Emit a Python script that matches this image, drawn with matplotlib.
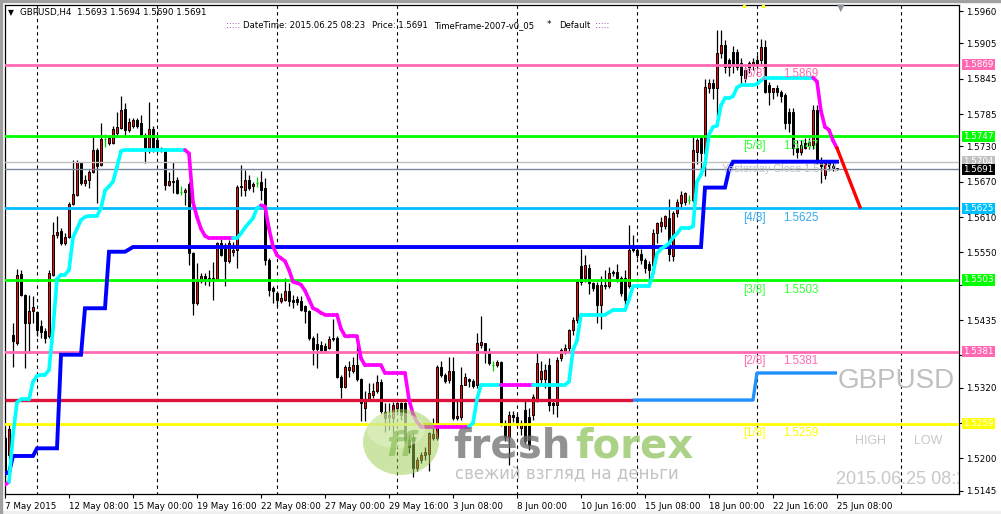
import matplotlib
matplotlib.use('Agg')
import matplotlib.pyplot as plt
import numpy as np
from matplotlib.collections import LineCollection
from matplotlib.patches import Ellipse, Rectangle

# ---------------- data (GBPUSD H4) ----------------
opens = [
 1.5234,1.5206,1.5410,1.5396,1.5514,1.5478,1.5430,1.5450,1.5448,1.5424,
 1.5416,1.5407,1.5512,1.5580,1.5587,1.5566,1.5576,1.5632,1.5648,1.5703,
 1.5668,1.5673,1.5687,1.5723,1.5699,1.5742,1.5735,1.5735,1.5752,1.5761,
 1.5793,1.5758,1.5764,1.5774,1.5769,1.5750,1.5724,1.5760,1.5741,1.5727,
 1.5724,1.5665,1.5672,1.5673,1.5653,1.5653,1.5666,1.5549,1.5464,1.5502,
 1.5509,1.5504,1.5506,1.5503,1.5566,1.5560,1.5535,1.5551,1.5554,1.5661,
 1.5656,1.5673,1.5662,1.5667,1.5670,1.5659,1.5537,1.5489,1.5481,1.5467,
 1.5469,1.5484,1.5469,1.5470,1.5467,1.5458,1.5450,1.5404,1.5395,1.5393,
 1.5390,1.5387,1.5403,1.5404,1.5339,1.5322,1.5350,1.5348,1.5359,1.5334,
 1.5285,1.5299,1.5308,1.5314,1.5330,1.5279,1.5270,1.5268,1.5285,1.5294,
 1.5294,1.5231,1.5237,1.5183,1.5198,1.5206,1.5208,1.5234,1.5234,1.5356,
 1.5342,1.5333,1.5348,1.5268,1.5270,1.5325,1.5335,1.5331,1.5325,1.5393,
 1.5396,1.5379,1.5359,1.5359,1.5364,1.5260,1.5237,1.5274,1.5271,1.5252,
 1.5282,1.5271,1.5274,1.5299,1.5334,1.5334,1.5359,1.5294,1.5291,1.5370,
 1.5382,1.5387,1.5418,1.5435,1.5526,1.5506,1.5523,1.5498,1.5495,1.5461,
 1.5495,1.5492,1.5515,1.5517,1.5506,1.5506,1.5492,1.5560,1.5554,1.5548,
 1.5537,1.5530,1.5529,1.5582,1.5594,1.5594,1.5608,1.5543,1.5616,1.5633,
 1.5636,1.5639,1.5639,1.5721,1.5744,1.5718,1.5829,1.5837,1.5829,1.5888,
 1.5902,1.5877,1.5891,1.5891,1.5871,1.5860,1.5865,1.5868,1.5877,1.5877,
 1.5899,1.5834,1.5823,1.5829,1.5823,1.5817,1.5789,1.5789,1.5727,1.5721,
 1.5735,1.5730,1.5732,1.5792,1.5707,1.5682,1.5701,1.5696,1.5693]
highs = [
 1.5240,1.5260,1.5430,1.5521,1.5520,1.5480,1.5478,1.5475,1.5450,1.5435,
 1.5421,1.5520,1.5602,1.5611,1.5591,1.5583,1.5636,1.5707,1.5707,1.5704,
 1.5682,1.5690,1.5747,1.5727,1.5769,1.5751,1.5748,1.5764,1.5789,1.5815,
 1.5803,1.5778,1.5778,1.5778,1.5784,1.5752,1.5806,1.5764,1.5747,1.5729,
 1.5727,1.5687,1.5704,1.5678,1.5662,1.5659,1.5670,1.5551,1.5532,1.5515,
 1.5515,1.5520,1.5534,1.5568,1.5577,1.5566,1.5571,1.5568,1.5665,1.5699,
 1.5690,1.5682,1.5670,1.5678,1.5689,1.5676,1.5540,1.5492,1.5484,1.5481,
 1.5506,1.5498,1.5478,1.5475,1.5475,1.5461,1.5452,1.5407,1.5413,1.5399,
 1.5396,1.5407,1.5437,1.5407,1.5342,1.5359,1.5365,1.5373,1.5390,1.5336,
 1.5314,1.5328,1.5328,1.5342,1.5334,1.5294,1.5294,1.5295,1.5296,1.5296,
 1.5296,1.5240,1.5243,1.5203,1.5211,1.5220,1.5245,1.5268,1.5359,1.5365,
 1.5345,1.5373,1.5373,1.5299,1.5356,1.5345,1.5336,1.5334,1.5413,1.5441,
 1.5396,1.5387,1.5366,1.5367,1.5366,1.5265,1.5280,1.5280,1.5275,1.5265,
 1.5300,1.5285,1.5310,1.5380,1.5365,1.5360,1.5370,1.5300,1.5372,1.5388,
 1.5395,1.5420,1.5440,1.5505,1.5555,1.5545,1.5530,1.5500,1.5500,1.5510,
 1.5520,1.5525,1.5520,1.5530,1.5510,1.5520,1.5597,1.5580,1.5560,1.5555,
 1.5540,1.5535,1.5590,1.5602,1.5610,1.5614,1.5640,1.5620,1.5640,1.5655,
 1.5652,1.5648,1.5750,1.5745,1.5750,1.5845,1.5845,1.5845,1.5928,1.5928,
 1.5910,1.5880,1.5900,1.5895,1.5880,1.5865,1.5875,1.5880,1.5885,1.5912,
 1.5910,1.5840,1.5830,1.5835,1.5825,1.5820,1.5795,1.5795,1.5740,1.5740,
 1.5745,1.5745,1.5800,1.5800,1.5712,1.5705,1.5706,1.5702,1.5694]
lows = [
 1.5166,1.5198,1.5356,1.5393,1.5475,1.5353,1.5379,1.5430,1.5407,1.5404,
 1.5396,1.5404,1.5509,1.5574,1.5563,1.5563,1.5574,1.5631,1.5645,1.5665,
 1.5662,1.5659,1.5685,1.5634,1.5696,1.5729,1.5732,1.5734,1.5750,1.5759,
 1.5750,1.5755,1.5761,1.5762,1.5747,1.5701,1.5718,1.5721,1.5721,1.5721,
 1.5656,1.5662,1.5651,1.5649,1.5648,1.5631,1.5529,1.5444,1.5461,1.5498,
 1.5495,1.5492,1.5469,1.5502,1.5543,1.5492,1.5532,1.5543,1.5523,1.5645,
 1.5645,1.5656,1.5653,1.5661,1.5639,1.5529,1.5475,1.5464,1.5458,1.5464,
 1.5467,1.5458,1.5455,1.5461,1.5450,1.5430,1.5401,1.5359,1.5353,1.5379,
 1.5379,1.5385,1.5399,1.5336,1.5302,1.5319,1.5339,1.5345,1.5331,1.5263,
 1.5263,1.5297,1.5302,1.5311,1.5277,1.5245,1.5248,1.5243,1.5277,1.5265,
 1.5226,1.5209,1.5169,1.5178,1.5192,1.5197,1.5178,1.5231,1.5231,1.5339,
 1.5328,1.5328,1.5265,1.5265,1.5265,1.5325,1.5322,1.5319,1.5319,1.5387,
 1.5362,1.5359,1.5348,1.5356,1.5255,1.5230,1.5189,1.5262,1.5255,1.5240,
 1.5225,1.5215,1.5265,1.5295,1.5325,1.5320,1.5280,1.5275,1.5270,1.5365,
 1.5378,1.5380,1.5410,1.5430,1.5495,1.5500,1.5480,1.5485,1.5430,1.5420,
 1.5488,1.5490,1.5510,1.5500,1.5475,1.5460,1.5490,1.5550,1.5540,1.5530,
 1.5515,1.5505,1.5520,1.5565,1.5585,1.5590,1.5535,1.5535,1.5610,1.5625,
 1.5630,1.5632,1.5635,1.5700,1.5690,1.5680,1.5820,1.5810,1.5780,1.5880,
 1.5855,1.5850,1.5855,1.5860,1.5835,1.5840,1.5855,1.5860,1.5865,1.5870,
 1.5820,1.5800,1.5810,1.5815,1.5805,1.5760,1.5755,1.5715,1.5710,1.5715,
 1.5725,1.5725,1.5725,1.5700,1.5667,1.5675,1.5690,1.5688,1.5690]
closes = [
 1.5175,1.5249,1.5399,1.5512,1.5478,1.5430,1.5450,1.5457,1.5418,1.5414,
 1.5404,1.5515,1.5580,1.5584,1.5566,1.5576,1.5632,1.5649,1.5703,1.5668,
 1.5673,1.5687,1.5723,1.5697,1.5742,1.5742,1.5744,1.5760,1.5763,1.5792,
 1.5758,1.5772,1.5775,1.5765,1.5750,1.5727,1.5760,1.5725,1.5724,1.5724,
 1.5665,1.5672,1.5670,1.5651,1.5653,1.5656,1.5549,1.5464,1.5502,1.5509,
 1.5504,1.5506,1.5503,1.5566,1.5546,1.5535,1.5566,1.5554,1.5661,1.5662,
 1.5673,1.5659,1.5666,1.5667,1.5656,1.5537,1.5486,1.5484,1.5469,1.5472,
 1.5484,1.5467,1.5466,1.5466,1.5452,1.5450,1.5404,1.5385,1.5385,1.5384,
 1.5384,1.5403,1.5404,1.5339,1.5322,1.5356,1.5356,1.5359,1.5334,1.5294,
 1.5297,1.5311,1.5314,1.5330,1.5280,1.5268,1.5274,1.5291,1.5294,1.5274,
 1.5231,1.5220,1.5183,1.5198,1.5206,1.5211,1.5243,1.5241,1.5356,1.5342,
 1.5332,1.5348,1.5268,1.5272,1.5325,1.5339,1.5331,1.5323,1.5396,1.5397,
 1.5379,1.5362,1.5359,1.5364,1.5260,1.5237,1.5274,1.5271,1.5260,1.5260,
 1.5229,1.5223,1.5305,1.5362,1.5348,1.5350,1.5291,1.5291,1.5367,1.5384,
 1.5387,1.5418,1.5435,1.5500,1.5500,1.5529,1.5498,1.5489,1.5461,1.5495,
 1.5492,1.5515,1.5517,1.5506,1.5481,1.5469,1.5554,1.5554,1.5546,1.5537,
 1.5523,1.5520,1.5582,1.5599,1.5602,1.5611,1.5548,1.5616,1.5636,1.5648,
 1.5650,1.5639,1.5724,1.5741,1.5718,1.5831,1.5837,1.5829,1.5888,1.5902,
 1.5865,1.5865,1.5868,1.5865,1.5851,1.5846,1.5871,1.5874,1.5868,1.5899,
 1.5823,1.5823,1.5829,1.5823,1.5815,1.5769,1.5769,1.5727,1.5721,1.5732,
 1.5727,1.5738,1.5792,1.5707,1.5696,1.5701,1.5696,1.5693,1.5691]

# trailing trend line (cyan = up, magenta = down)
trend_vals = [
 1.5155,1.5160,1.5240,1.5295,1.5300,1.5300,1.5300,1.5330,1.5340,1.5342,
 1.5342,1.5350,1.5420,1.5505,1.5512,1.5512,1.5520,1.5575,1.5590,1.5605,
 1.5610,1.5612,1.5612,1.5612,1.5625,1.5655,1.5662,1.5670,1.5695,1.5722,
 1.5724,1.5724,1.5724,1.5724,1.5724,1.5724,1.5724,1.5724,1.5724,1.5724,
 1.5724,1.5724,1.5724,1.5724,1.5724,1.5724,1.5718,1.5635,1.5610,1.5590,
 1.5578,1.5574,1.5574,1.5574,1.5574,1.5574,1.5574,1.5574,1.5574,1.5582,
 1.5592,1.5600,1.5608,1.5625,1.5630,1.5628,1.5590,1.5560,1.5545,1.5540,
 1.5535,1.5520,1.5500,1.5498,1.5495,1.5485,1.5470,1.5455,1.5452,1.5447,
 1.5444,1.5444,1.5444,1.5444,1.5420,1.5408,1.5407,1.5407,1.5407,1.5370,
 1.5358,1.5358,1.5358,1.5358,1.5358,1.5345,1.5345,1.5345,1.5345,1.5345,
 1.5345,1.5300,1.5275,1.5262,1.5254,1.5254,1.5254,1.5254,1.5254,1.5254,
 1.5254,1.5254,1.5254,1.5254,1.5254,1.5254,1.5254,1.5260,1.5300,1.5325,
 1.5325,1.5325,1.5325,1.5325,1.5325,1.5325,1.5325,1.5325,1.5325,1.5325,
 1.5325,1.5325,1.5325,1.5325,1.5325,1.5325,1.5325,1.5325,1.5325,1.5325,
 1.5325,1.5330,1.5384,1.5400,1.5444,1.5444,1.5444,1.5444,1.5444,1.5444,
 1.5444,1.5448,1.5452,1.5452,1.5452,1.5452,1.5470,1.5492,1.5492,1.5492,
 1.5492,1.5492,1.5514,1.5548,1.5556,1.5560,1.5565,1.5575,1.5582,1.5591,
 1.5591,1.5591,1.5594,1.5670,1.5682,1.5700,1.5750,1.5763,1.5765,1.5800,
 1.5812,1.5812,1.5815,1.5830,1.5834,1.5834,1.5834,1.5834,1.5836,1.5842,
 1.5847,1.5847,1.5847,1.5847,1.5847,1.5847,1.5847,1.5847,1.5847,1.5847,
 1.5847,1.5847,1.5847,1.5840,1.5790,1.5763,1.5758,1.5740,1.5727]
magenta_ranges = [(0, 1), (46, 57), (65, 116), (125, 132), (203, 208)]

# slow step line (blue)
step_vals = [
 1.5175,1.5175,1.5204,1.5204,1.5204,1.5204,1.5204,1.5204,1.5217,1.5217,
 1.5217,1.5217,1.5217,1.5217,1.5376,1.5376,1.5376,1.5376,1.5376,1.5376,
 1.5455,1.5455,1.5455,1.5455,1.5455,1.5455,1.5551,1.5551,1.5551,1.5551,
 1.5551,1.5555]
step_flat_level = 1.5559
step_flat_end = 174
step_tail_vals = [1.5660, 1.5660, 1.5660, 1.5660, 1.5660, 1.5660, 1.5690, 1.5704]
step_last_bar = 208

# pivot line: crimson (history) and dodger blue (current)
pivot_level = 1.5299
pivot_split_bar = 157
pivot_step_bar = 188
pivot_new_level = 1.5345

# projection
proj_bars = [208, 213.75]
proj_prices = [1.5727, 1.5627]

# Murrey-style levels
level_names = ['[6/8]', '[5/8]', '[4/8]', '[3/8]', '[2/8]', '[1/8]']
level_prices = [1.5869, 1.5747, 1.5625, 1.5503, 1.5381, 1.5259]
level_colors = ['#FF69B4', '#00FF00', '#00BFFF', '#00FF00', '#FF69B4', '#FFFF00']
level_text_colors = ['#FF69B4', '#33FF33', '#33AAEE', '#33FF33', '#FF69B4', '#FFFF00']
yesterday_close = 1.5704
last_price = 1.5691

tag_prices = [1.5869, 1.5747, 1.5704, 1.5691, 1.5625, 1.5503, 1.5381, 1.5259]
tag_colors = ['#FF69B4', '#00FF00', '#C0C0C0', '#000000', '#00BFFF', '#00FF00', '#FF69B4', '#FFFF00']

ytick_vals = [1.5960, 1.5905, 1.5845, 1.5785, 1.5730, 1.5670, 1.5610, 1.5550,
              1.5495, 1.5435, 1.5375, 1.5320, 1.5260, 1.5200, 1.5145]
ytick_hidden = [1.5495, 1.5375, 1.5260]   # covered by the level price tags
xtick_bars = [0, 16, 32, 48, 64, 80, 96, 112, 128, 144, 160, 176, 192, 208]
xtick_labels = ['7 May 2015', '12 May 08:00', '15 May 00:00', '19 May 16:00', '22 May 08:00',
                '27 May 00:00', '29 May 16:00', '3 Jun 08:00', '8 Jun 00:00', '10 Jun 16:00',
                '15 Jun 08:00', '18 Jun 00:00', '22 Jun 16:00', '25 Jun 08:00']
grid_bars = [8, 38, 68, 98, 128, 158, 188, 224]

# ---------------- figure ----------------
W, H = 1001, 514
fig = plt.figure(figsize=(W / 100, H / 100), dpi=100)
fig.patch.set_facecolor('white')
ax = fig.add_axes([5 / W, (H - 494) / H, 954 / W, 489 / H])
ax.set_xlim(0, 238.5)
ax.set_ylim(1.51394, 1.59702)
ax.set_facecolor('white')
for s in ax.spines.values():
    s.set_color('black')
    s.set_linewidth(0.9)

FONT = 'DejaVu Sans'

# grid
ax.vlines(grid_bars, 1.50, 1.61, colors='black', linestyles=(0, (3, 3)), linewidth=0.8, zorder=1)

# candles
o = np.array(opens); h = np.array(highs); l = np.array(lows); c = np.array(closes)
bars = np.arange(len(o))
doji = np.abs(c - o) < 1e-6
up = (c > o) & ~doji
dn = (c < o) & ~doji
ax.vlines(bars[~doji], l[~doji], h[~doji], colors='black', linewidth=0.9, zorder=2)
ax.vlines(bars[doji], l[doji], h[doji], colors='#00CC00', linewidth=0.9, zorder=2)
ax.hlines(c[doji], bars[doji] - 0.35, bars[doji] + 0.35, colors='#00CC00', linewidth=0.9, zorder=2)
bw = 0.62
ax.bar(bars[up], c[up] - o[up], bottom=o[up], width=bw, color='#FF0000', edgecolor='black', linewidth=0.7, zorder=2.1)
ax.bar(bars[dn], o[dn] - c[dn], bottom=c[dn], width=bw, color='black', edgecolor='black', linewidth=0.7, zorder=2.1)

# horizontal levels
for p, col in zip(level_prices, level_colors):
    ax.axhline(p, color=col, linewidth=2.0, zorder=3)
ax.axhline(yesterday_close, color='#C0C0C0', linewidth=1.0, zorder=3)
ax.axhline(last_price, color='#778899', linewidth=1.0, zorder=3)

# pivot line
pv = np.array([pivot_level if b < pivot_step_bar else pivot_new_level for b in range(step_last_bar + 1)])
ax.plot(np.arange(0, pivot_split_bar + 1), pv[:pivot_split_bar + 1], color='#DC143C', linewidth=2.4,
        solid_capstyle='butt', zorder=4)
ax.plot(np.arange(pivot_split_bar, step_last_bar + 1), pv[pivot_split_bar:], color='#1E90FF',
        linewidth=2.4, solid_capstyle='butt', zorder=4)

# slow blue step line
sv = list(step_vals) + [step_flat_level] * (step_flat_end - len(step_vals) + 1) + list(step_tail_vals)
sv = sv[:step_last_bar + 1]
sv += [step_tail_vals[-1]] * (step_last_bar + 1 - len(sv))
ax.plot(np.arange(len(sv)), sv, color='#0000FF', linewidth=2.8, solid_joinstyle='miter', zorder=4.2)

# trend line
tv = np.array(trend_vals)
tb = np.arange(len(tv))
is_mag = np.zeros(len(tv), dtype=bool)
for a, b in magenta_ranges:
    is_mag[a:b + 1] = True
segs = [[(tb[i], tv[i]), (tb[i + 1], tv[i + 1])] for i in range(len(tv) - 1)]
cols = ['#FF00FF' if is_mag[i + 1] else '#00FFFF' for i in range(len(tv) - 1)]
ax.add_collection(LineCollection(segs, colors=cols, linewidths=2.6, capstyle='round', zorder=4.5))

# projection
ax.plot(proj_bars, proj_prices, color='#FF0000', linewidth=2.4, zorder=4.6)

# level labels
for name, p, tc in zip(level_names, level_prices, level_text_colors):
    ax.text(184.5, p - 0.0006, name, color=tc, fontsize=8.3, family='Liberation Sans', va='top', ha='left', zorder=5)
    ax.text(194.5, p - 0.0006, f'{p:.4f}', color=tc, fontsize=8.3, family='Liberation Sans', va='top', ha='left', zorder=5)
ax.text(208, 1.5692, 'Yesterday Close 1.5704', color='#C0C0C0', fontsize=7.8, family='Liberation Sans',
        va='center', ha='right', zorder=5)

# axes ticks
ax.yaxis.tick_right()
ax.set_yticks(ytick_vals)
ax.set_yticklabels(['' if v in ytick_hidden else f'{v:.4f}' for v in ytick_vals], family=FONT, fontsize=6.3)
ax.tick_params(axis='y', direction='out', length=3, width=0.8, pad=2, colors='black')
ax.set_xticks(xtick_bars)
ax.set_xticklabels(xtick_labels, family=FONT, fontsize=6.3)
ax.tick_params(axis='x', direction='out', length=3, width=0.8, pad=3, colors='black')
for lbl in ax.get_xticklabels():
    lbl.set_horizontalalignment('left')

# right-side price tags
tr = ax.get_yaxis_transform()
for p, col in zip(tag_prices, tag_colors):
    ax.text(1.0045, p, f'{p:.4f}', transform=tr, color='white', fontsize=6.3, family=FONT,
            va='center', ha='left', clip_on=False, zorder=6,
            bbox=dict(boxstyle='square,pad=0.12', fc=col, ec='none'))

# watermark texts
def fx(x):
    return x / W
def fy(y):
    return 1 - y / H

fig.text(fx(838), fy(388), 'GBPUSD', color='#C0C0C0', fontsize=20, family='Liberation Sans', va='baseline', ha='left')
fig.text(fx(855), fy(444), 'HIGH', color='#C8C8C8', fontsize=9, family='Liberation Sans', va='baseline', ha='left')
fig.text(fx(914), fy(444), 'LOW', color='#C8C8C8', fontsize=9, family='Liberation Sans', va='baseline', ha='left')
ax.text(fx(836), fy(484), '2015.06.25 08:23', transform=fig.transFigure, color='#C8C8C8', fontsize=13,
        family='Liberation Sans', va='baseline', ha='left', clip_on=True, zorder=5)

# header
fig.text(fx(8), fy(13), '\u25BC', fontsize=5.5, family=FONT, va='center', ha='left', color='black')
fig.text(fx(20), fy(13), 'GBPUSD,H4  1.5693 1.5694 1.5690 1.5691', fontsize=6.3, family=FONT,
         va='center', ha='left', color='black')
fig.text(fx(226), fy(26), ':::::', fontsize=6.3, family=FONT, va='center', ha='left', color='#800080')
fig.text(fx(243), fy(26), 'DateTime: 2015.06.25 08:23', fontsize=6.1, family=FONT, va='center', ha='left')
fig.text(fx(372), fy(26), 'Price: 1.5691', fontsize=6.1, family=FONT, va='center', ha='left')
fig.text(fx(434), fy(26), 'TimeFrame-2007-v0_05', fontsize=6.1, family=FONT, va='center', ha='left')
fig.text(fx(547), fy(25), '*', fontsize=6.3, family=FONT, va='center', ha='left')
fig.text(fx(559), fy(26), 'Default', fontsize=6.1, family=FONT, va='center', ha='left')
fig.text(fx(595), fy(26), ':::::', fontsize=6.3, family=FONT, va='center', ha='left', color='#800080')
fig.text(fx(837), fy(8), '\u25BC', fontsize=7, family=FONT, va='center', ha='left', color='#8A929A')
fig.add_artist(Rectangle((fx(743), fy(7)), 2 / W, 2 / H, transform=fig.transFigure, color='#FFFF00'))
fig.add_artist(Rectangle((fx(762), fy(7)), 2 / W, 2 / H, transform=fig.transFigure, color='#FFFF00'))

# freshforex watermark logo
fig.add_artist(Ellipse((fx(401), fy(442)), 76 / W, 66 / H, transform=fig.transFigure,
                       fc='#9ACD4A', ec='none', alpha=0.5, zorder=5))
fig.add_artist(Ellipse((fx(396), fy(430)), 58 / W, 36 / H, transform=fig.transFigure,
                       fc='#E2F4C8', ec='none', alpha=0.5, zorder=5))
fig.text(fx(401), fy(446), 'ff', fontsize=24, family='DejaVu Sans', weight='bold', style='italic',
         color='#6FAE3A', alpha=0.5, va='center', ha='center', zorder=6)
fig.text(fx(453), fy(457), 'fresh', fontsize=29, family='DejaVu Sans', weight='bold',
         color='#6E6E6E', alpha=0.75, va='baseline', ha='left', zorder=6)
fig.text(fx(575), fy(457), 'forex', fontsize=29, family='DejaVu Sans', weight='bold',
         color='#9CCB72', alpha=0.85, va='baseline', ha='left', zorder=6)
fig.text(fx(455), fy(479), 'свежий взгляд на деньги', fontsize=12, family='DejaVu Sans',
         color='#BDBDBD', alpha=0.9, va='baseline', ha='left', zorder=6)

# window frame
fig.add_artist(Rectangle((0, 0), 1, 3 / H, transform=fig.transFigure, color='#F0F0F0', zorder=0))
fig.add_artist(Rectangle((0, 1 - 1.5 / H), 1, 1.5 / H, transform=fig.transFigure, color='#A0A0A0', zorder=0))
fig.add_artist(Rectangle((0, 0), 1.5 / W, 1, transform=fig.transFigure, color='#A0A0A0', zorder=0))

fig.savefig('out.png', dpi=100, facecolor='white')
